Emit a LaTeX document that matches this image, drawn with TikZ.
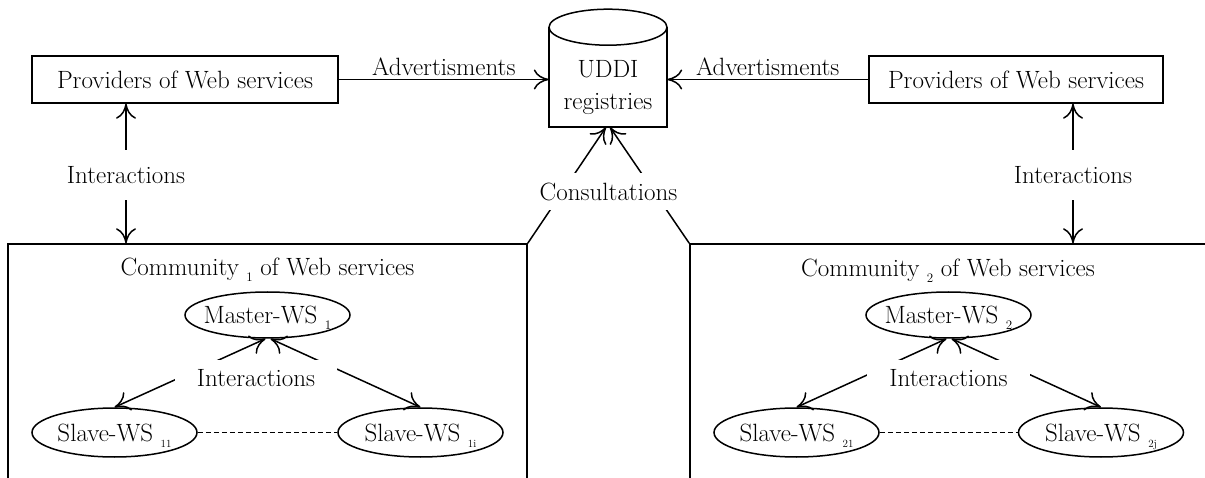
\documentclass[tikz,border=0pt]{standalone}
\usepackage{fontspec}
\usetikzlibrary{arrows.meta,positioning,shapes.geometric,backgrounds}

\newcommand{\wsidx}[1]{\raisebox{-6pt}{\fontsize{13}{13}\selectfont #1}}
\newcommand{\wssmall}[1]{\raisebox{-6pt}{\fontsize{11}{11}\selectfont #1}}

\begin{document}
\begin{tikzpicture}[
        x=1pt, y=1pt,
        font=\fontsize{25}{30}\selectfont,
        >={To[length=15pt,width=20pt]},
        provider/.style={draw, line width=1.5pt, minimum height=47pt, inner sep=0pt},
        registry/.style={minimum width=118pt, minimum height=78pt, align=center, inner sep=0pt, font=\fontsize{25}{32}\selectfont},
        community/.style={draw, line width=1.5pt, minimum height=300pt, inner sep=0pt},
        ws/.style={draw, ellipse, line width=1.5pt, minimum width=165pt, text depth=0pt, inner xsep=-9pt, inner ysep=0pt},
        gaplabel/.style={fill=white, inner xsep=22pt, inner ysep=10pt},
        link/.style={line width=1.5pt}
    ]
        \useasboundingbox (0,0) rectangle (1205,-478);
        \clip (0,0) rectangle (1205,-478);

        \node[registry] (uddi) at (608,-88) {UDDI\\registries};
        \draw[link] ([yshift=100pt]uddi.south west) -- (uddi.south west) -- (uddi.south east) -- ([yshift=100pt]uddi.south east);
        \draw[link] ([yshift=100pt]uddi.south) ellipse [x radius=59pt, y radius=18pt];

        \node[provider, minimum width=306pt] (prov1) at (185,-79.5) {Providers of Web services};
        \node[provider, minimum width=294pt] (prov2) at (1016,-79.5) {Providers of Web services};

        \node[gaplabel, inner ysep=16pt] (inter1) at (126,-175) {Interactions};
        \node[gaplabel, inner ysep=16pt] (inter2) at (1073,-175) {Interactions};
        \node[gaplabel] (consult) at (608.5,-191.5) {Consultations};

        % community 1
        \node[community, minimum width=519pt] (comm1) at (267.5,-394) {};
        \node[anchor=base] (title1) at (267.5,-276) {Community \wsidx{1} of Web services};
        \node[ws, minimum height=46pt] (master1) at (267.5,-315) {Master-WS \wsidx{1}};
        \node[ws, minimum height=49pt] (slave11) at (114.5,-432.5) {Slave-WS \wssmall{11}};
        \node[ws, minimum height=49pt] (slave1i) at (420.5,-432.5) {Slave-WS \wssmall{1i}};
        \node[gaplabel] (interc1) at (256,-378.5) {Interactions};

        % community 2
        \node[community, minimum width=570pt] (comm2) at (975,-394) {};
        \node[anchor=base] (title2) at (948,-277) {Community \wsidx{2} of Web services};
        \node[ws, minimum height=46pt] (master2) at (948.5,-315) {Master-WS \wsidx{2}};
        \node[ws, minimum height=49pt] (slave21) at (796.5,-432.5) {Slave-WS \wssmall{21}};
        \node[ws, minimum height=49pt] (slave2j) at (1101,-432.5) {Slave-WS \wssmall{2j}};
        \node[gaplabel] (interc2) at (948.5,-378.5) {Interactions};

        \draw[link, ->] (prov1.east) -- node[above] {Advertisments} (prov1.east -| uddi.west);
        \draw[link, ->] (prov2.west) -- node[above] {Advertisments} (prov2.west -| uddi.east);

        \begin{scope}[on background layer]
            \draw[link, <->] (inter1 |- prov1.south) -- (inter1 |- comm1.north);
            \draw[link, <->] (inter2 |- prov2.south) -- (inter2 |- comm2.north);
            \draw[link, ->] (comm1.north east) -- ([xshift=-2pt]uddi.south);
            \draw[link, ->] (comm2.north west) -- ([xshift=2pt]uddi.south);

            \draw[link, <->] ([xshift=-2pt]master1.south) -- (slave11.north);
            \draw[link, <->] ([xshift=3pt]master1.south) -- (slave1i.north);
            \draw[link, <->] ([xshift=-2pt]master2.south) -- (slave21.north);
            \draw[link, <->] ([xshift=3pt]master2.south) -- (slave2j.north);

            \draw[line width=1.2pt, dash pattern=on 5pt off 3pt] (slave11) -- (slave1i);
            \draw[line width=1.2pt, dash pattern=on 5pt off 3pt] (slave21) -- (slave2j);
        \end{scope}
    \end{tikzpicture}
\end{document}
